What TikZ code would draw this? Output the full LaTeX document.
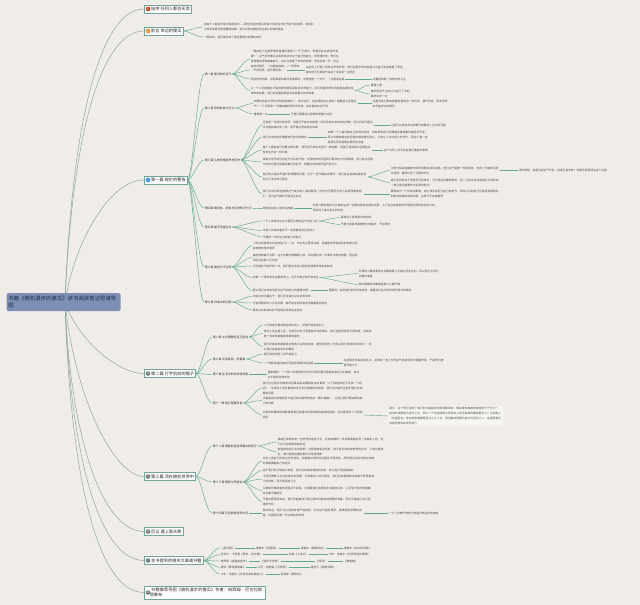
\documentclass[tikz,border=0pt]{standalone}
\usepackage{fontspec}
\setmainfont{Noto Sans CJK SC}
\XeTeXlinebreaklocale "zh"
\XeTeXlinebreakskip=0pt plus 0.5pt
\definecolor{bgc}{HTML}{F0EDE9}
\definecolor{rootc}{HTML}{7D8FB5}
\definecolor{roott}{HTML}{1E2B4E}
\definecolor{boxd}{HTML}{6FA79B}
\definecolor{rootl}{HTML}{8DA79D}
\definecolor{branchl}{HTML}{5DAA8C}
\definecolor{icA}{HTML}{D7401F}
\definecolor{icB}{HTML}{EE8B2E}
\definecolor{icC}{HTML}{2E8FE0}
\definecolor{icD}{HTML}{6F7D78}
\definecolor{notet}{HTML}{4A4A4A}
\definecolor{hintc}{HTML}{F7F5F2}
\begin{document}
\begin{tikzpicture}[x=1pt,y=-1pt,
  rootbox/.style={fill=rootc, rounded corners=1.5pt, text=roott, font=\fontsize{5.3}{7}\selectfont, text width=110pt, align=left, inner sep=2pt, minimum height=18pt},
  mainbox/.style={draw=boxd, fill=white, line width=0.45pt, font=\fontsize{4.2}{5.2}\selectfont, text=black!85, inner xsep=1.5pt, inner ysep=1.3pt, anchor=west, minimum height=8pt},
  chap/.style={font=\fontsize{2.9}{4}\selectfont, text=black!80, anchor=west, inner sep=0.6pt},
  note/.style={font=\fontsize{2.75}{5}\selectfont, text=notet, anchor=west, inner sep=0.6pt, align=left},
  ic/.style={circle, inner sep=0pt, minimum size=4.6pt, font=\fontsize{3}{3}\selectfont, text=white},
  rl/.style={draw=rootl, line width=0.5pt},
  bl/.style={draw=branchl, line width=0.45pt},
  br/.style={to path={.. controls +(5,0) and +(-6,0) .. (\tikztotarget)}},
]
\fill[bgc] (0,0) rectangle (640,605);
\path[use as bounding box] (0,0) rectangle (640,605);

% ---------- main topics ----------
\node[mainbox] (n1) at (144,9) {\hspace*{5.5pt}自序 任何人都会买卖};
\node[mainbox] (n2) at (144,31) {\hspace*{5.5pt}前言 幸运的傻瓜};
\node[mainbox] (n3) at (144,180) {\hspace*{5.5pt}第一篇 梭伦的警告};
\node[mainbox] (n4) at (144,373.5) {\hspace*{5.5pt}第二篇 打字机前的猴子};
\node[mainbox] (n5) at (144,476.5) {\hspace*{5.5pt}第三篇 活在随机世界中};
\node[mainbox] (n6) at (144,531.5) {\hspace*{5.5pt}后记 遇上黑天鹅};
\node[mainbox] (n7) at (144,560.5) {\hspace*{5.5pt}本书提到的相关文章或书籍};
\node[mainbox, text width=118pt, align=left, minimum height=13pt] (n8) at (144,592.5) {\hspace*{5.5pt}书籍推荐导图《随机漫步的傻瓜》作者：纳西姆·尼古拉斯·塔勒布};
\node[ic, fill=icA] (i1) at ([xshift=4pt]n1.west) {1};
\node[ic, fill=icB] (i2) at ([xshift=4pt]n2.west) {2};
\node[ic, fill=icC] (i3) at ([xshift=4pt]n3.west) {3};
\node[ic, fill=icD] (i4) at ([xshift=4pt]n4.west) {4};
\node[ic, fill=icD] (i5) at ([xshift=4pt]n5.west) {5};
\node[ic, fill=icD] (i6) at ([xshift=4pt]n6.west) {6};
\node[ic, fill=icD] (i7) at ([xshift=4pt]n7.west) {7};
\node[ic, fill=icD] (i8) at ([xshift=4pt]n8.west) {8};

% ---------- root connectors (drawn under the root) ----------
\coordinate (o) at (65,302);
\draw[rl] (o) .. controls (73,100) and (105,9) .. (n1.west);
\draw[rl] (o) .. controls (73,118) and (105,31) .. (n2.west);
\draw[rl] (o) .. controls (75,240) and (110,180) .. (n3.west);
\draw[rl] (o) .. controls (75,335) and (115,373.5) .. (n4.west);
\draw[rl] (o) .. controls (75,400) and (115,476.5) .. (n5.west);
\draw[rl] (o) .. controls (70,430) and (100,531.5) .. (n6.west);
\draw[rl] (o) .. controls (70,450) and (98,560.5) .. (n7.west);
\draw[rl] (o) .. controls (70,470) and (96,592.5) .. (n8.west);
\node[rootbox] (root) at (63.5,302) {书籍《随机漫步的傻瓜》读书阅读笔记思维导图};

% ---------- 前言 ----------
\node[note, text width=110pt] (p1) at (203,27) {当每个人都在市场中追逐成功——那些幸运的傻瓜将自己的好运归功于能力和智慧，而把别人的失败看作是愚蠢的结果，却从未想过随机性在其中扮演的角色};
\node[note] (p2) at (203,37) {一般来说，我们都忽视了那些事情中的随机成分};
\draw[bl] (n2.east) to[br] (p1.west);
\draw[bl] (n2.east) to[br] (p2.west);

% ---------- 第一篇 chapters ----------
\node[chap] (c1) at (204,74) {第一章 傻瓜的好运气};
\node[chap] (c2) at (204,108) {第二章 奇特的会计方法};
\node[chap] (c3) at (204,160) {第三章 从数学角度思考历史};
\node[chap] (c4) at (204,208) {第四章 随机性、胡说与科学知识分子};
\node[chap] (c5) at (204,227) {第五章 最不适者生存};
\node[chap] (c6) at (204,267) {第六章 偏态与不对称};
\node[chap] (c7) at (204,302) {第七章 归纳法的问题};
\foreach \c in {c1,c2,c3,c4,c5,c6,c7} \draw[bl] (n3.east) to[br] (\c.west);

% 第一章
\node[note, text width=88pt] (d1a) at (250,59) {“假如有人在俄罗斯轮盘赌中赢得了一千万美元，他是否应该被当作英雄？”运气好的傻瓜总会把成功归功于自己的能力，而非随机性。他们在财富面前显得高傲自大，自以为掌握了市场的规律，然而总有一天，好运会突然离开，一切都会结束——一无所有};
\node[note] (d1b) at (250,70) {“不劳而获，是不是好事。”};
\node[note, text width=100pt] (d1b2) at (305,70) {以前的人们很少思考运气的作用，他们总是非常自信地认为自己完全掌握了命运，其实他们只是碰巧站在了幸运的一边而已};
\node[note] (d1c) at (250,79) {然后他的同事、邻居和朋友都开始羡慕他，觉得他是一个天才，一切看似完美};
\node[note] (d1c2) at (372,79) {这看起来是一种成功的人生};
\node[note, text width=103pt] (d1d) at (250,90.5) {从一个人的财富并不能判断他是否具有真正的能力，因为财富同样也可能是由随机性带来的结果，我们应该看到那些没有被看见的失败者};
\node[note] (d1d1) at (370,85) {警惕心理};
\node[note, text width=42pt] (d1d2) at (370,94) {随机的运气让他以为自己了不起，最终失去一切};
\foreach \d in {d1a,d1b,d1c,d1d} \draw[bl] (c1.east) to[br] (\d.west);
\draw[bl] (d1b.east) -- (d1b2.west);
\draw[bl] (d1c.east) -- (d1c2.west);
\draw[bl] (d1d.east) to[br] (d1d1.west);
\draw[bl] (d1d.east) to[br] (d1d2.west);

% 第二章
\node[note, text width=103pt] (d2a) at (253,103.5) {如果你的会计师告诉你财富增加了，你应该问：这些钱是怎么来的？是靠能力还是运气？一个牙医和一个赌徒赚到同样多的钱，其价值却完全不同};
\node[note, text width=75pt] (d2a2) at (372,103.5) {这是学者们用来衡量财富的另一种方式：替代历史，即考虑所有可能发生的情形};
\node[note] (d2b) at (253,114) {重视哪一点};
\node[note] (d2b2) at (290,114) {于是只需要关注结果的质量与过程};
\draw[bl] (c2.east) to[br] (d2a.west);
\draw[bl] (c2.east) to[br] (d2b.west);
\draw[bl] (d2a.east) -- (d2a2.west);
\draw[bl] (d2b.east) -- (d2b2.west);

% 第三章
\node[note, text width=110pt] (d3a) at (262,125) {历史是一位很好的老师，但我们不能仅仅根据一段历史就对未来作出判断，因为历史只是众多可能结果中的一种，而不是必然会发生的事};
\node[note] (d3a2) at (390,125) {让他们以更加长远的眼光来看待人生中的问题};
\node[note] (d3b) at (262,137) {我们应该如何正确看待历史中的教训};
\node[note, text width=100pt] (d3b2) at (327,137) {如果一个人每天都关注市场的波动，他会发现自己的情绪总是随着价格起伏不定，而从长期来看这些短期的噪音毫无意义，只会让人付出更大的代价，因此少看一些新闻反而可能做出更好的决定};
\node[note, text width=108pt] (d3c) at (262,150) {每个人都有自己的看法和判断，但历史只会告诉我们一种结果，而我们很容易忘记那些没有发生的另一种可能};
\node[note] (d3c2) at (383,150) {这个世界上并不存在真正确定的事情};
\node[note, text width=110pt] (d3d) at (262,162) {噪音与信号的区别在于时间的尺度：在很短的时间里我们看到的大多是噪音，而只有在足够长的时间里才能看到真正的信号，短期内的表现不能代表什么};
\node[note, text width=104pt] (d3e) at (262,177) {我们的大脑并不擅长处理概率问题，对于一些不确定的事件，我们往往会高估或者低估它们发生的可能性};
\node[note, text width=108pt] (d3e1) at (390,170.5) {大部分投资者都被市场的短期波动所迷惑，他们过于看重一时的得失，忽视了长期的风险与回报，最终付出了沉重的代价};
\node[note] (d3e1b) at (518,170.5) {请你想想：如果当初运气不好，结果又会怎样？你是否承受得住这个后果};
\node[note, text width=108pt] (d3e2) at (390,182.5) {真正的风险在于那些罕见的事件，它们发生的概率很低，但一旦发生就会造成巨大的影响（参见黑天鹅事件与彩票的例子）};
\node[note, text width=100pt] (d3f) at (262,194) {我们应该对那些依靠运气成功的人保持警惕，同时也不要因为他人失败而嘲笑他们，因为运气随时可能发生变化};
\node[note, text width=108pt] (d3f2) at (390,194) {要想成为一个好的决策者，就必须学会区分能力和运气，同时认识到自己也会受到随机性的影响而做出错误判断，这样才不会被愚弄};
\foreach \d in {d3a,d3b,d3c,d3d,d3e,d3f} \draw[bl] (c3.east) to[br] (\d.west);
\draw[bl] (d3a.east) -- (d3a2.west);
\draw[bl] (d3b.east) -- (d3b2.west);
\draw[bl] (d3c.east) -- (d3c2.west);
\draw[bl] (d3e.east) to[br] (d3e1.west);
\draw[bl] (d3e.east) to[br] (d3e2.west);
\draw[bl] (d3e1.east) -- (d3e1b.west);
\draw[bl] (d3f.east) -- (d3f2.west);

% 第四章
\node[note] (d4a) at (262,208) {随机性胡说八道的生成器};
\node[note, text width=125pt] (d4a2) at (312,208) {利用计算机程序可以随机生成一些看似很有深度的文章，人们往往会被那些华丽但空洞的语言所打动，而忽视了其中真正的内容};
\draw[bl] (c4.east) to[br] (d4a.west);
\draw[bl] (d4a.east) -- (d4a2.west);

% 第五章
\node[note] (d5a) at (262,221) {一个人的成功也许只是因为他的运气比别人好};
\node[note] (d5a1) at (340,217.5) {看到别人获得成功的时候};
\node[note] (d5a2) at (340,224.5) {于是也盲目地跟随他们的脚步，不加思考};
\node[note] (d5b) at (262,230.5) {市场上的幸存者并不一定是最适合生存的人};
\node[note] (d5c) at (262,237) {不要把一次好运当成自己的能力};
\foreach \d in {d5a,d5b,d5c} \draw[bl] (c5.east) to[br] (\d.west);
\draw[bl] (d5a.east) to[br] (d5a1.west);
\draw[bl] (d5a.east) to[br] (d5a2.west);

% 第六章
\node[note, text width=105pt] (d6a) at (252,245.5) {《外在的表现与内在的能力》一文，文中的主要观点是：即使是非常有经验的专家也可能被随机性所愚弄};
\node[note, text width=105pt] (d6b) at (252,257.5) {偏态意味着不对称：在大多数时候赚取小钱，却在偶尔的一次事件中损失惨重，而这种风险往往被人们忽视};
\node[note] (d6c) at (252,266) {平均值并不能代表一切，我们更应该关注那些极端事件带来的影响};
\node[note] (d6d) at (252,277.5) {就算一个事件的发生概率很小，也不代表它就不会发生};
\node[note, text width=80pt] (d6d1) at (358,273.5) {所谓的小概率事件在长期来看几乎是必然发生的，所以我们必须为此做好准备};
\node[note] (d6d2) at (358,284.5) {有时候最好的策略就是什么都不做};
\node[note] (d6e) at (252,290.5) {那么我们应该如何区分运气和能力的重要性呢？};
\node[note] (d6e2) at (328,290.5) {需要用一段足够长的时间来检验，看看他们在不同市场环境中的表现};
\foreach \d in {d6a,d6b,d6c,d6d,d6e} \draw[bl] (c6.east) to[br] (\d.west);
\draw[bl] (d6d.east) to[br] (d6d1.west);
\draw[bl] (d6d.east) to[br] (d6d2.west);
\draw[bl] (d6e.east) -- (d6e2.west);

% 第七章
\node[note] (d7a) at (252,296.5) {归纳法的问题在于：我们无法通过过去证明未来};
\node[note] (d7b) at (252,303) {无论观察到多少只白天鹅，都不能证明所有的天鹅都是白色的};
\node[note] (d7c) at (252,310) {看到过去的成功并不能保证将来还会成功};
\foreach \d in {d7a,d7b,d7c} \draw[bl] (c7.east) to[br] (\d.west);

% ---------- 第二篇 ----------
\node[chap] (c8) at (212,337) {第八章 太多隔壁的百万富翁};
\node[chap] (c9) at (212,359) {第九章 买卖容易，煎蛋难};
\node[chap] (c10) at (212,374.5) {第十章 生活中的非线性现象};
\node[chap] (c11) at (212,403) {第十一章 我们是概率盲};
\foreach \c in {c8,c9,c10,c11} \draw[bl] (n4.east) to[br] (\c.west);

\node[note] (d8a) at (263,325) {人们常常只看到那些成功的人，却看不到失败的人};
\node[note, text width=108pt] (d8b) at (263,333.5) {很多人住在富人区，与身边比自己更富有的邻居相比，他们总是觉得自己很失败，这其实是一种幸存者偏差导致的错觉};
\node[note, text width=108pt] (d8c) at (263,346.5) {我们所看到的都是经过筛选之后的幸存者，那些失败的人已经从我们的视线中消失了，所以我们会高估成功的概率};
\foreach \d in {d8a,d8b,d8c} \draw[bl] (c8.east) to[br] (\d.west);

\node[note] (d9a) at (263,354) {我们常常混淆了运气和能力};
\node[note] (d9b) at (263,363) {一个随机的投资者也可能获得很好的回报};
\node[note, text width=100pt] (d9b2) at (343,363) {在足够多的投资者当中，总会有一些人仅凭运气就连续多年跑赢市场，于是他们被看作是天才};
\draw[bl] (c9.east) to[br] (d9a.west);
\draw[bl] (c9.east) to[br] (d9b.west);
\draw[bl] (d9b.east) -- (d9b2.west);

\node[note, text width=92pt] (d10a) at (267,374.5) {赢家通吃：一个微小的优势经过长时间的积累可能会带来巨大的差距，成功并不是线性增长的};
\draw[bl] (c10.east) -- (d10a.west);

\node[note, text width=100pt] (d11a) at (262,388) {我们往往喜欢用简单的因果关系来解释复杂的事情（人们总是倾向于寻找一个原因），但实际上很多事情的发生仅仅是随机的结果，我们的大脑天生就不擅长处理概率问题};
\node[note, text width=100pt] (d11b) at (262,400.5) {大脑会自动忽略那些与自己观点相悖的信息（确认偏差），从而让我们更加相信自己的判断};
\node[note, text width=100pt] (d11c) at (262,415) {对数字和概率的误解使得我们在面对风险时做出错误的选择，这也是很多人亏损的原因};
\node[note, text width=112pt, fill=hintc, inner sep=1.2pt] (d11c2) at (388,416) {提示：这个例子说明了我们的大脑是如何处理概率的。假如某种疾病的发病率为千分之一，检测的误报率为百分之五，那么一个检测结果为阳性的人真正患病的概率是多少？大多数人（包括医生）给出的答案都是百分之九十五，而正确的答案只有大约百分之二，这说明我们的直觉常常会误导我们};
\foreach \d in {d11a,d11b,d11c} \draw[bl] (c11.east) to[br] (\d.west);
\draw[bl] (d11c.east) -- (d11c2.west);

% ---------- 第三篇 ----------
\node[chap] (c12) at (212,446) {第十二章 赌徒的迷信和箱中的鸽子};
\node[chap] (c13) at (212,482) {第十三章 概率与怀疑论};
\node[chap] (c14) at (212,513) {第十四章 巴克斯抛弃安东尼};
\foreach \c in {c12,c13,c14} \draw[bl] (n5.east) to[br] (\c.west);

\node[note, text width=106pt] (d12a) at (277,442) {赌徒们常常会有一些奇怪的迷信行为，比如穿着同一件衣服或者走同一条路去上班，他们认为这样能带来好运};
\node[note, text width=106pt] (d12b) at (277,452) {斯金纳的鸽子实验表明：当奖励随机出现时，鸽子会形成各种奇怪的仪式，人类也是如此，我们常常在随机事件中寻找规律};
\draw[bl] (c12.east) to[br] (d12a.west);
\draw[bl] (c12.east) to[br] (d12b.west);

\node[note, text width=112pt] (d13a) at (262,461) {许多人把自己的观点当作信仰，即使面对相反的证据也不愿改变，然而真正的科学家应该随时准备推翻自己的观点};
\node[note] (d13b) at (262,470.5) {由于我们的认知能力有限，我们应该保持谦逊的态度，承认自己可能是错的};
\node[note, text width=112pt] (d13c) at (262,479) {卡涅阿德斯认为没有绝对的真理，只有概率上的可能性，我们应该根据新的信息不断更新自己的判断，而不是固执己见};
\node[note, text width=108pt] (d13d) at (262,490.5) {从概率的角度看待问题并不容易，它需要我们克服很多本能的反应，认识到大部分事情都存在着不确定性};
\node[note, text width=108pt] (d13e) at (262,501.5) {不要试图预测未来，我们所能做的只是为各种可能的结果做好准备，同时尽量减少自己犯错的代价};
\foreach \d in {d13a,d13b,d13c,d13d,d13e} \draw[bl] (c13.east) to[br] (\d.west);

\node[note, text width=100pt] (d14a) at (262,513) {面对命运，我们可以选择有尊严地接受，无论运气是好是坏，都要保持优雅的态度，这是我们唯一可以掌控的东西};
\node[note] (d14a2) at (388,513) {一个人的尊严来自于他面对命运时的态度};
\draw[bl] (c14.east) -- (d14a.west);
\draw[bl] (d14a.east) -- (d14a2.west);

% ---------- 本书提到的相关文章或书籍 ----------
\node[note] (r1a) at (220,548) {《黑天鹅》};
\node[note] (r1b) at (255,548) {塔勒布《反脆弱》};
\node[note] (r1c) at (300,548) {塔勒布《肥尾效应》};
\node[note] (r1d) at (343,548) {塔勒布《非对称风险》};
\node[note] (r2a) at (220,554.5) {丹尼尔·卡尼曼《思考，快与慢》};
\node[note] (r2b) at (288,554.5) {休谟《人性论》};
\node[note] (r2c) at (328,554.5) {卡尔·波普尔《科学发现的逻辑》};
\node[note] (r3a) at (220,561) {索罗斯《金融炼金术》};
\node[note] (r3b) at (260,561) {《漫步华尔街》};
\node[note] (r3c) at (315,561) {《原则》};
\node[note] (r3d) at (343,561) {《随笔集》};
\node[note] (r4a) at (220,567.5) {蒙田《蒙田随笔集》};
\node[note] (r4b) at (257,567.5) {马可·奥勒留《沉思录》};
\node[note] (r4c) at (310,567.5) {塞涅卡《道德书简》};
\node[note] (r5a) at (220,574) {卡尔·波普尔《开放社会及其敌人》};
\node[note] (r5b) at (280,574) {凯恩斯《概率论》};
\foreach \r in {r1a,r2a,r3a,r4a,r5a} \draw[bl] (n7.east) to[br] (\r.west);
\draw[bl] (r1a.east) -- (r1b.west);
\draw[bl] (r1b.east) -- (r1c.west);
\draw[bl] (r1c.east) -- (r1d.west);
\draw[bl] (r2a.east) -- (r2b.west);
\draw[bl] (r2b.east) -- (r2c.west);
\draw[bl] (r3a.east) -- (r3b.west);
\draw[bl] (r3b.east) -- (r3c.west);
\draw[bl] (r3c.east) -- (r3d.west);
\draw[bl] (r4a.east) -- (r4b.west);
\draw[bl] (r4b.east) -- (r4c.west);
\draw[bl] (r5a.east) -- (r5b.west);
\end{tikzpicture}
\end{document}
